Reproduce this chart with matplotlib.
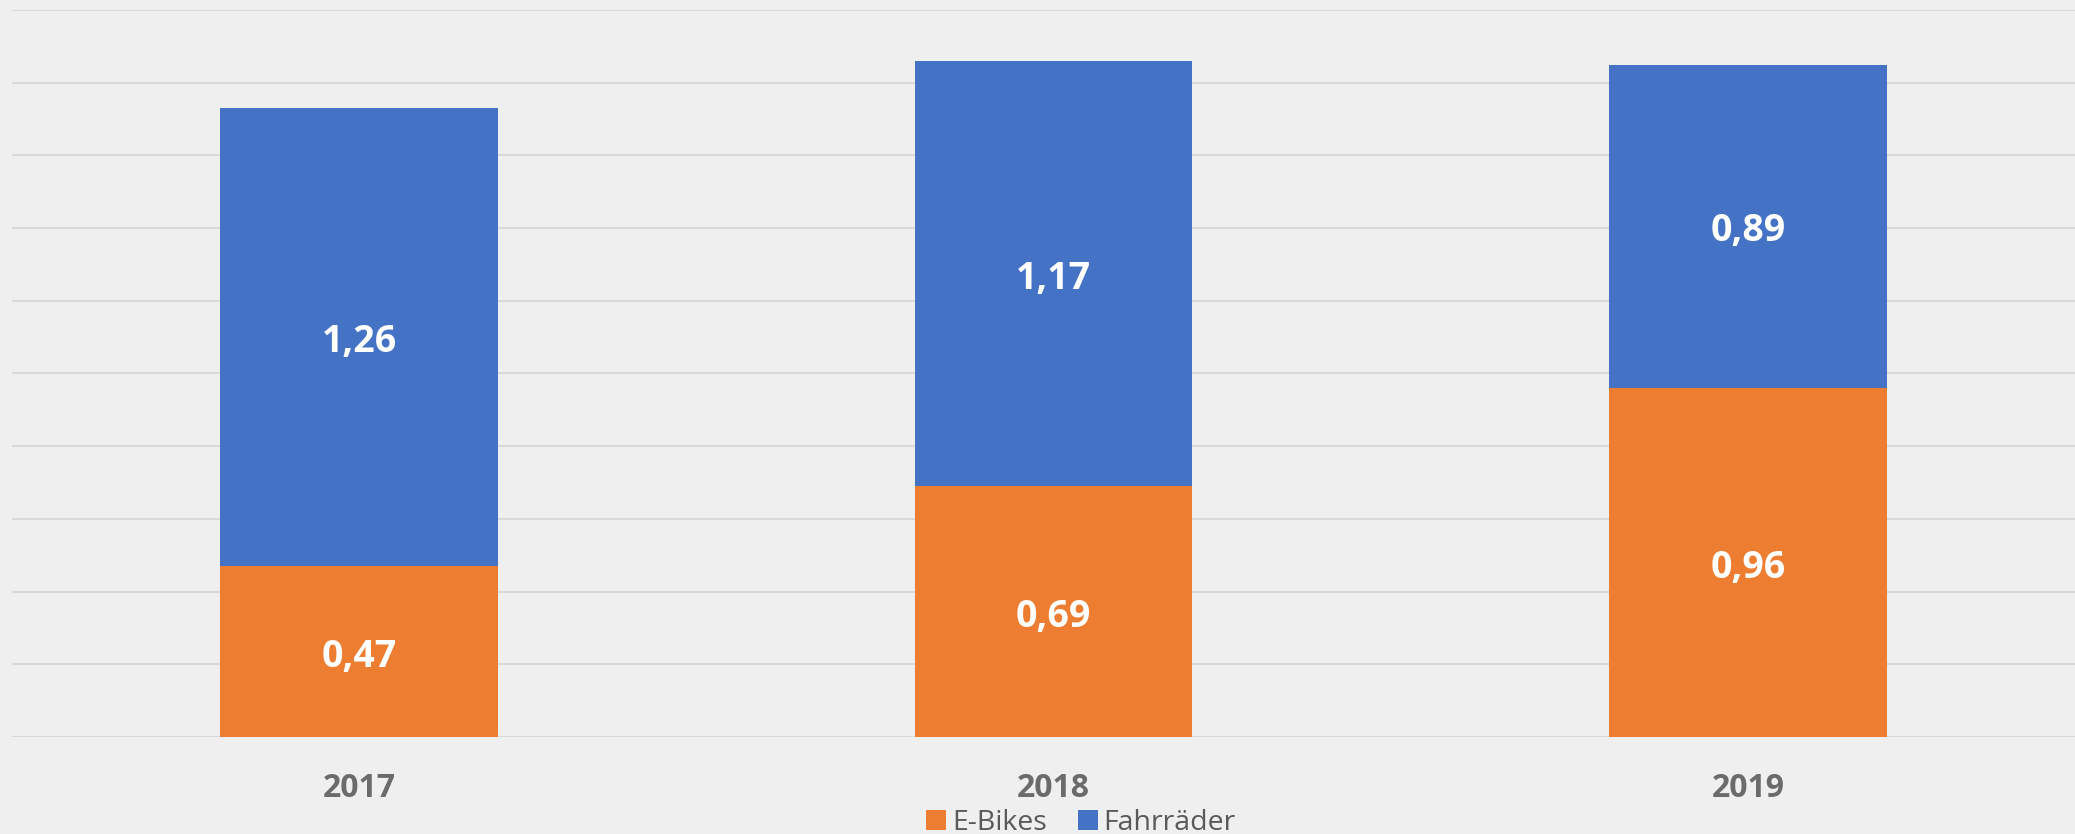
import numpy as np
import matplotlib.pyplot as plt
from matplotlib.transforms import offset_copy

years = ['2017', '2018', '2019']
ebikes = [0.47, 0.69, 0.96]
fahrraeder = [1.26, 1.17, 0.89]

def fmt(v):
    return f'{v:.2f}'.replace('.', ',')

W, H = 2075, 834
fig = plt.figure(figsize=(W / 100, H / 100), dpi=100)
fig.patch.set_facecolor('#efefef')

ax = fig.add_axes([12 / W, (H - 737) / H, (W - 12) / W, (737 - 10) / H])
ax.set_facecolor('none')

x = np.arange(len(years))
b1 = ax.bar(x, ebikes, width=0.4, color='#ED7D31', label='E-Bikes', zorder=3)
b2 = ax.bar(x, fahrraeder, width=0.4, bottom=ebikes, color='#4472C4', label='Fahrräder', zorder=3)

# labels sit a few pixels lower than the exact centre
tr = offset_copy(ax.transData, fig=fig, x=0, y=-5, units='dots')
for i in range(len(years)):
    ax.text(x[i], ebikes[i] / 2, fmt(ebikes[i]), ha='center', va='center', transform=tr,
            color='white', fontsize=27, fontweight='bold', family='Open Sans', zorder=4)
    ax.text(x[i], ebikes[i] + fahrraeder[i] / 2, fmt(fahrraeder[i]), ha='center', va='center',
            transform=tr, color='white', fontsize=27, fontweight='bold', family='Open Sans', zorder=4)

ax.set_ylim(0, 2.0)
ax.set_xlim(-0.5, 2.471)
ax.set_yticks(np.arange(0, 2.01, 0.2))
ax.yaxis.grid(True, color='#d9d9d9', linewidth=1.5, zorder=0)
ax.tick_params(axis='y', left=False, labelleft=False)
ax.tick_params(axis='x', bottom=False, pad=22)
ax.set_xticks(x)
ax.set_xticklabels(years, fontsize=23, fontweight='bold', color='#6b6b6b', family='Open Sans')
for s in ax.spines.values():
    s.set_visible(False)

fig.legend(handles=[b1, b2], loc='center', bbox_to_anchor=(1081 / W, (H - 823) / H),
           ncol=2, frameon=False, handlelength=0.7, handleheight=0.7,
           handletextpad=0.2, columnspacing=1.1, borderpad=0,
           prop={'family': 'Open Sans', 'size': 20.5})
for t in fig.legends[0].get_texts():
    t.set_color('#595959')

fig.savefig('out.png', dpi=100, facecolor=fig.get_facecolor())
